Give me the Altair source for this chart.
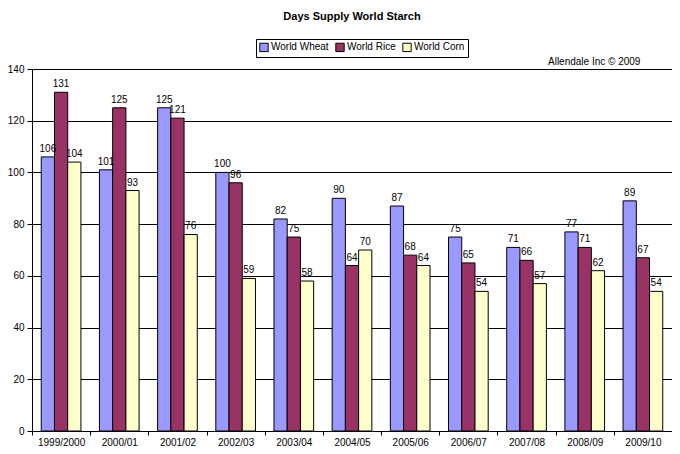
import altair as alt
import pandas as pd

seasons = ["1999/2000", "2000/01", "2001/02", "2002/03", "2003/04", "2004/05",
           "2005/06", "2006/07", "2007/08", "2008/09", "2009/10"]
series = ["World Wheat", "World Rice", "World Corn"]
wheat = [106, 101, 125, 100, 82, 90, 87, 75, 71, 77, 89]
rice = [131, 125, 121, 96, 75, 64, 68, 65, 66, 71, 67]
corn = [104, 93, 76, 59, 58, 70, 64, 54, 57, 62, 54]
colors = ["#9999FF", "#993366", "#FFFFCC"]
note_text = ["Allendale Inc © 2009"]

rows = []
for i, s in enumerate(seasons):
    for name, vals in zip(series, [wheat, rice, corn]):
        rows.append({"season": s, "series": name, "value": vals[i]})
df = pd.DataFrame(rows)

FONT = "Liberation Sans, Arial, sans-serif"

x = alt.X("season:N", sort=seasons, title=None,
          scale=alt.Scale(paddingInner=0, paddingOuter=0),
          axis=alt.Axis(labelAngle=0, tickBand="extent", labelFontSize=10,
                        labelFont=FONT,
                        labelColor="black", domainColor="black", tickColor="black",
                        labelPadding=2, tickSize=4, grid=False))
xo = alt.XOffset("series:N", sort=series,
                 scale=alt.Scale(paddingInner=0, paddingOuter=0.7))
y = alt.Y("value:Q", title=None,
          scale=alt.Scale(domain=[0, 140], nice=False),
          axis=alt.Axis(values=list(range(0, 141, 20)), labelFontSize=10,
                        labelFont=FONT,
                        labelColor="black", domainColor="black", tickColor="black",
                        gridColor="black", gridOpacity=1, tickSize=5, labelPadding=3))

base = alt.Chart(df)
bars = base.mark_bar(stroke="black", strokeWidth=1).encode(
    x=x, xOffset=xo, y=y,
    color=alt.Color("series:N", sort=series,
                    scale=alt.Scale(domain=series, range=colors),
                    legend=alt.Legend(title=None, orient="none", direction="horizontal",
                                      legendX=224, legendY=-30, symbolType="square",
                                      symbolSize=70, symbolStrokeColor="black",
                                      symbolStrokeWidth=1, labelFontSize=10,
                                      labelFont=FONT, columnPadding=4, symbolOffset=0,
                                      strokeColor="black", padding=3, labelOffset=2)),
)
labels = base.mark_text(baseline="bottom", dy=-3, fontSize=10, font=FONT, color="black").encode(
    x=alt.X("season:N", sort=seasons), xOffset=alt.XOffset("series:N", sort=series),
    y="value:Q", text="value:Q")
note = alt.Chart(pd.DataFrame({"t": note_text})).mark_text(
    align="left", baseline="bottom", fontSize=10, font=FONT, color="black").encode(
    x=alt.value(516), y=alt.value(-2), text="t:N")

chart = alt.layer(bars, labels, note).properties(
    width=640, height=362,
    autosize=alt.AutoSizeParams(type="none"),
    padding={"left": 24, "top": 61, "right": 0, "bottom": 15},
    title=alt.Title("Days Supply World Starch", fontSize=11, font=FONT,
                    fontWeight="bold", anchor="middle", frame="group", offset=17),
).configure_view(fill="#C0C0C0", stroke="black", strokeWidth=1).configure(background="white")

chart.save("out.html", embed_options={"renderer": "svg", "actions": False})
